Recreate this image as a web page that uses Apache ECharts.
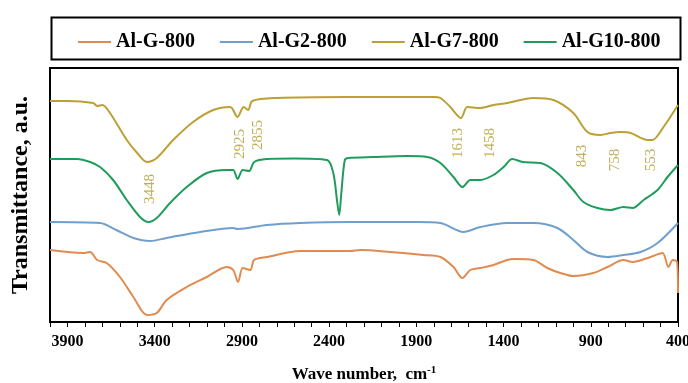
<!DOCTYPE html>
<html>
<head>
<meta charset="utf-8">
<script src="https://cdn.jsdelivr.net/npm/echarts@6/dist/echarts.min.js"></script>
<style>html,body{margin:0;padding:0;background:#fff}#main{width:688px;height:383px}</style>
</head>
<body>
<div id="main"></div>
<script>
// wavenumbers (cm-1) and transmittance in arbitrary units
var g7Wn  = [4000,3900,3753,3730,3700,3656,3560,3500,3445,3388,3294,3180,3064,2967,2925,2890,2864,2840,2700,2300,1800,1762,1705,1644,1608,1533,1458,1380,1229,1114,1000,919,843,787,730,672,574,546,483,400];
var g7Val = [221,221,219,216,217,209,182,169,160,164,182,200,212,215,205,215,212,221,224,225,225,224,215,204,215,214,217,219,224,222,209,190,187,189,190,189,182,182,195,217];

var g10Wn  = [4000,3845,3770,3713,3638,3560,3484,3436,3388,3312,3216,3101,2987,2950,2925,2895,2858,2830,2757,2600,2412,2376,2355,2342,2330,2310,2290,2147,1952,1837,1762,1687,1636,1590,1533,1458,1400,1350,1290,1189,1091,1000,942,862,787,713,660,597,517,460,400];
var g10Val = [163,163,160,155,142,122,105,100,104,119,135,149,152,152,143,152,151,160,163,163.5,162,149,122,107,129,162,164,165,166,165,159,145,135,142,142,147,155,163,160,159,149,132,120,114,112,115,114,122,132,145,157];

var g2Wn  = [4000,3713,3620,3522,3426,3331,3139,2950,2925,2757,2566,2279,1900,1762,1630,1533,1380,1229,1091,1000,919,804,713,615,517,400];
var g2Val = [100,99,92,84,81,84,90,94,93,97,99,100,100,99,90,95,99,99,94,82,70,65,67,70,79,99];

var gWn  = [4000,3810,3770,3730,3675,3599,3522,3445,3388,3331,3216,3101,2987,2950,2922,2895,2852,2830,2757,2566,2279,2221,2049,1859,1762,1687,1636,1590,1533,1458,1380,1340,1229,1149,1074,1000,885,804,713,660,574,489,455,430,405,400];
var gVal = [72,69,70,62,59,45,25,7,9,22,35,45,55,52,40,54,52,62,65,71,71,72,70,67,65,55,44,52,54,57,62,63,62,54,49,46,49,55,62,60,64,69,55,62,60,29];

var seriesNames  = ['Al-G-800', 'Al-G2-800', 'Al-G7-800', 'Al-G10-800'];
var seriesColors = ['#e08b50', '#6f9fcf', '#bca034', '#1f9c5c'];

// peak annotations: text, position (wavenumber, value)
var peakText = ['3448', '2925', '2855', '1613', '1458', '843', '758', '553'];
var peakWn   = [3426, 2910, 2807, 1659, 1476, 948, 758, 557];
var peakVal  = [133, 178, 187, 179, 179, 166, 162, 162];

function pairs(xs, ys) {
    return xs.map(function (x, i) { return [x, ys[i]]; });
}

var serif = "'Liberation Serif', 'Times New Roman', serif";
var dom = document.getElementById('main');
var myChart = echarts.init(dom);

var lineData = [pairs(gWn, gVal), pairs(g2Wn, g2Val), pairs(g7Wn, g7Val), pairs(g10Wn, g10Val)];
var series = lineData.map(function (d, i) {
    return {
        name: seriesNames[i],
        type: 'line',
        data: d,
        smooth: 0.3,
        symbol: 'none',
        lineStyle: {width: 2, color: seriesColors[i]},
        itemStyle: {color: seriesColors[i]},
        z: 3
    };
});
series.push({
    type: 'scatter',
    symbolSize: 0,
    silent: true,
    data: peakText.map(function (t, i) { return {name: t, value: [peakWn[i], peakVal[i]]}; }),
    label: {
        show: true,
        position: 'inside',
        rotate: 90,
        formatter: '{b}',
        color: '#b09a30',
        fontFamily: serif,
        fontSize: 15
    }
});

var option = {
    animation: false,
    backgroundColor: '#fff',
    graphic: [{
        type: 'rect',
        left: 49, top: 15,
        shape: {width: 629, height: 42},
        style: {fill: 'none', stroke: '#000', lineWidth: 2}
    }],
    legend: {
        data: seriesNames,
        left: 73,
        top: 27,
        icon: 'rect',
        itemWidth: 33,
        itemHeight: 2,
        itemGap: 25,
        textStyle: {fontFamily: serif, fontWeight: 'bold', fontSize: 20, color: '#000'}
    },
    grid: {
        left: 50, right: 10, top: 68, bottom: 61,
        outerBoundsMode: 'none',
        show: true, borderColor: '#000', borderWidth: 2
    },
    xAxis: {
        type: 'value',
        inverse: true,
        min: 400,
        max: 4000,
        interval: 100,
        name: 'Wave number,  cm{sup|-1}',
        nameLocation: 'middle',
        nameGap: 43,
        nameTextStyle: {
            fontFamily: serif, fontWeight: 'bold', fontSize: 17, color: '#000',
            rich: {sup: {fontFamily: serif, fontWeight: 'bold', fontSize: 11, verticalAlign: 'top', padding: [0, 0, 8, 0]}}
        },
        axisLine: {lineStyle: {color: '#000', width: 2}},
        axisTick: {length: 5, lineStyle: {color: '#000', width: 1}},
        axisLabel: {
            margin: 12,
            fontFamily: serif, fontWeight: 'bold', fontSize: 16, color: '#000',
            formatter: function (v) { return v % 500 === 400 ? String(v) : ''; }
        },
        splitLine: {show: false}
    },
    yAxis: {
        type: 'value',
        min: 0,
        max: 254,
        name: 'Transmittance, a.u.',
        nameLocation: 'middle',
        nameGap: 17,
        nameTextStyle: {fontFamily: serif, fontWeight: 'bold', fontSize: 24, color: '#000'},
        axisLine: {show: true, lineStyle: {color: '#000', width: 2}},
        axisTick: {show: false},
        axisLabel: {show: false},
        splitLine: {show: false}
    },
    series: series
};

myChart.setOption(option, true);
</script>
</body>
</html>
